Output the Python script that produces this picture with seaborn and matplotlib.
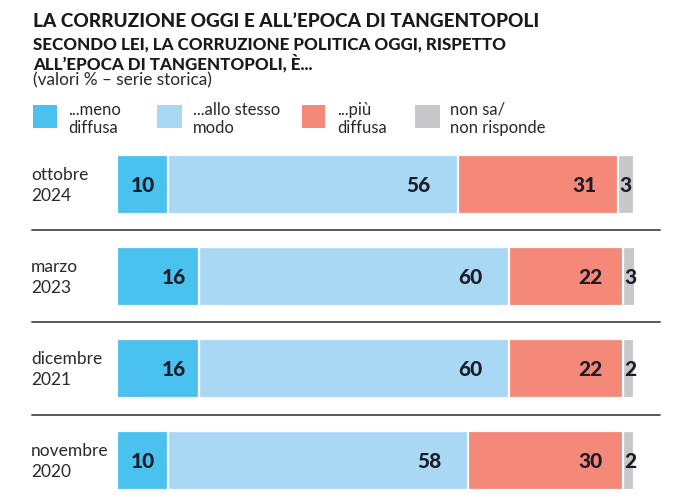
import matplotlib
matplotlib.use("Agg")
import matplotlib.pyplot as plt
import seaborn as sns
import pandas as pd
from matplotlib.patches import Rectangle
from matplotlib.lines import Line2D

# ---------------- data ----------------
periods = ["ottobre\n2024", "marzo\n2023", "dicembre\n2021", "novembre\n2020"]
meno = [10, 16, 16, 10]
stesso = [56, 60, 60, 58]
piu = [31, 22, 22, 30]
nonsa = [3, 3, 2, 2]
series_labels = ["...meno\ndiffusa", "...allo stesso\nmodo", "...più\ndiffusa", "non sa/\nnon risponde"]
title = "LA CORRUZIONE OGGI E ALL\u2019EPOCA DI TANGENTOPOLI"
subtitle1 = "SECONDO LEI, LA CORRUZIONE POLITICA OGGI, RISPETTO"
subtitle2 = "ALL\u2019EPOCA DI TANGENTOPOLI, \u00c8..."
note = "(valori % \u2013 serie storica)"

# ---------------- style ----------------
colors = ["#4BC1EF", "#A9D8F4", "#F4897A", "#C8C8CA"]
W, H = 695, 498
sns.set_style("white")
plt.rcParams["font.family"] = ["Lato", "DejaVu Sans"]

fig = plt.figure(figsize=(W / 100, H / 100), dpi=100)
fig.patch.set_facecolor("white")


def fx(x):
    return x / W


def fy(y):
    return 1 - y / H


row_c0, row_step = 184.5, 92.0
ax_left, ax_right = 116.5, 633.5
ax_top, ax_bot = row_c0 - 0.5 * row_step, H
ax = fig.add_axes([fx(ax_left), fy(ax_bot), (ax_right - ax_left) / W, (ax_bot - ax_top) / H])

df = pd.DataFrame({"period": periods, "meno": meno, "stesso": stesso, "piu": piu, "nonsa": nonsa})
df["c1"] = df["meno"]
df["c2"] = df["c1"] + df["stesso"]
df["c3"] = df["c2"] + df["piu"]
df["c4"] = df["c3"] + df["nonsa"]

for col, colr in zip(["c4", "c3", "c2", "c1"], colors[::-1]):
    sns.barplot(data=df, x=col, y="period", orient="h", color=colr, saturation=1,
                width=0.64, edgecolor="white", linewidth=1.6, ax=ax, errorbar=None)

ax.set_xlim(0, 100)
ax.set_ylim((ax_bot - row_c0) / row_step, -0.5)
ax.axis("off")

px_to_x = 100 / (ax_right - ax_left)
pads = [13, 27, 21]
starts = [[0] * 4, list(df["c1"]), list(df["c2"]), list(df["c3"])]
ends = [list(df["c1"]), list(df["c2"]), list(df["c3"]), list(df["c4"])]
vals = [meno, stesso, piu, nonsa]
for i in range(len(periods)):
    yb = i + 7.5 / row_step
    for j in range(4):
        if j < 3:
            ax.text(ends[j][i] - pads[j] * px_to_x, yb, str(vals[j][i]), ha="right", va="baseline",
                    fontsize=15, fontweight="black", color="#1d1d29")
        else:
            ax.text(starts[j][i] + 1 * px_to_x, yb, str(vals[j][i]), ha="left", va="baseline",
                    fontsize=15, fontweight="black", color="#1d1d29", clip_on=False)

# row labels
for i, p in enumerate(periods):
    fig.text(fx(31), fy(row_c0 + i * row_step + 1), p, ha="left", va="center",
             fontsize=12.5, color="#2a2a2a", linespacing=1.35)

# separators
for i in range(len(periods) - 1):
    y = row_c0 + (i + 0.5) * row_step
    fig.add_artist(Line2D([fx(32), fx(660)], [fy(y), fy(y)], transform=fig.transFigure,
                          color="#4a4a4a", lw=1.3))

# legend
sq_x = [(33, 57), (157, 182), (302, 325), (415, 440)]
tx_x = [68, 193, 337, 450]
for (x0, x1), tx, lab, c in zip(sq_x, tx_x, series_labels, colors):
    fig.add_artist(Rectangle((fx(x0), fy(128)), (x1 - x0) / W, 23 / H, transform=fig.transFigure,
                             facecolor=c, edgecolor="none"))
    fig.text(fx(tx), fy(119), lab, ha="left", va="center", fontsize=12, color="#2a2a2a",
             linespacing=1.2)

# titles
renderer = fig.canvas.get_renderer()


def fitted(x, y, s, target, fs, **kw):
    t = fig.text(fx(x), fy(y), s, fontsize=fs, va="baseline", ha="left", **kw)
    w = t.get_window_extent(renderer).width
    t.set_fontsize(fs * target / w)
    return t


t1 = fitted(33, 27, title, 504, 13, fontweight="black", color="#1a1a1a")
t2 = fitted(33, 49, subtitle1, 472, 12, fontweight="black", color="#1a1a1a")
fig.text(fx(33), fy(69), subtitle2, fontsize=t2.get_fontsize(), fontweight="black",
         color="#1a1a1a", va="baseline", ha="left")
fitted(33, 85, note, 179, 11, color="#2a2a2a")

fig.savefig("out.png", dpi=100, facecolor="white")
